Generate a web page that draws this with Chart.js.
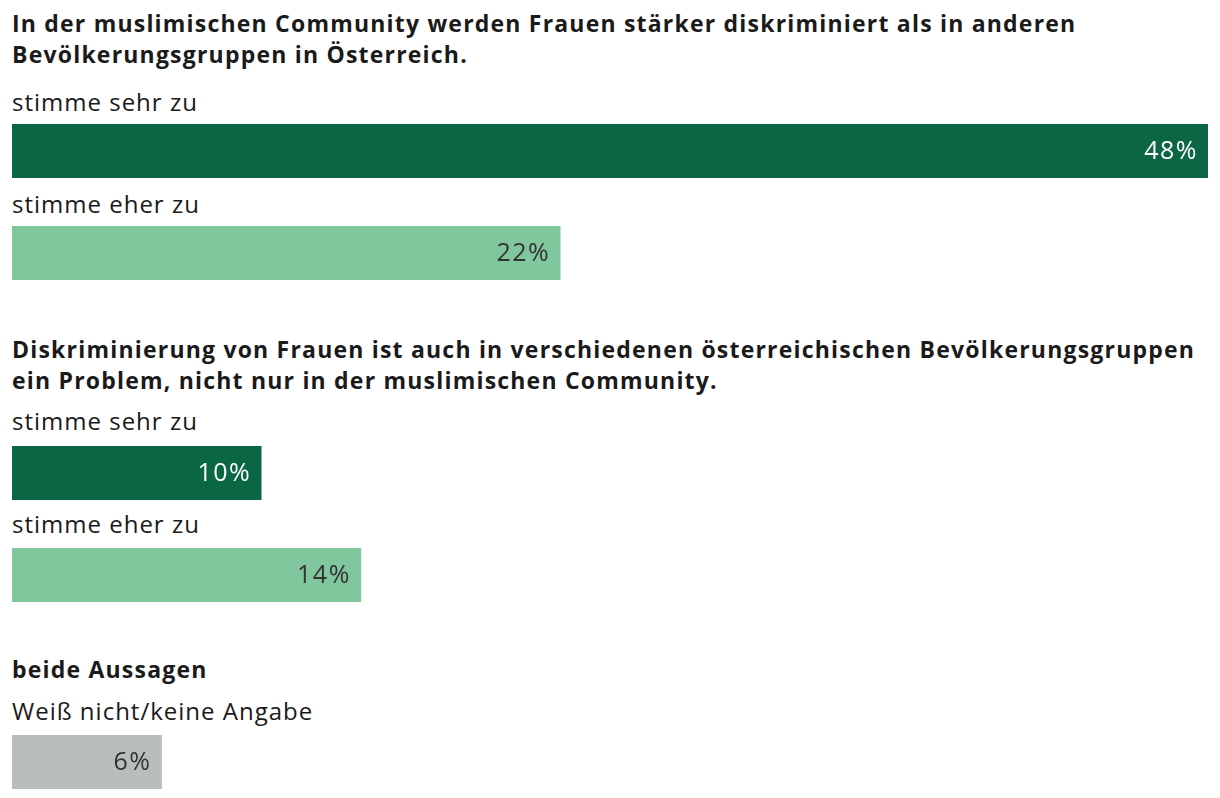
<!DOCTYPE html>
<html>
<head>
<meta charset="utf-8">
<script src="https://cdn.jsdelivr.net/npm/chart.js@4/dist/chart.umd.min.js"></script>
<style>
  html, body { margin: 0; padding: 0; background: #fff; }
  body { width: 1220px; height: 798px; position: relative; overflow: hidden; font-family: "Open Sans", sans-serif; color: #1a1a1a; }
  .title { position: absolute; left: 12px; font-weight: 700; font-size: 23px; letter-spacing: 1.2px; line-height: 31px; white-space: pre-line; color: #1a1a1a; }
  .label { position: absolute; left: 12px; font-weight: 400; font-size: 24px; letter-spacing: 1px; line-height: 30px; color: #1a1a1a; }
  .bar { position: absolute; left: 12px; width: 1196px; height: 54px; }
</style>
</head>
<body>
<script>
// ---- data ----
const groupTitles = [
  "In der muslimischen Community werden Frauen stärker diskriminiert als in anderen\nBevölkerungsgruppen in Österreich.",
  "Diskriminierung von Frauen ist auch in verschiedenen österreichischen Bevölkerungsgruppen\nein Problem, nicht nur in der muslimischen Community.",
  "beide Aussagen"
];
const group1Labels = ["stimme sehr zu", "stimme eher zu"];
const group1Values = [48, 22];
const group2Labels = ["stimme sehr zu", "stimme eher zu"];
const group2Values = [10, 14];
const group3Labels = ["Weiß nicht/keine Angabe"];
const group3Values = [6];
const scaleMax = 48;

// ---- styles ----
const colorStrong = "#0b6644";
const colorWeak = "#80c79e";
const colorNeutral = "#b8bebb";
const groups = [
  { title: groupTitles[0], labels: group1Labels, values: group1Values, colors: [colorStrong, colorWeak], text: ["#ffffff", "#333333"] },
  { title: groupTitles[1], labels: group2Labels, values: group2Values, colors: [colorStrong, colorWeak], text: ["#ffffff", "#333333"] },
  { title: groupTitles[2], labels: group3Labels, values: group3Values, colors: [colorNeutral], text: ["#333333"] }
];
// layout (tops in px)
const layout = [
  { title: 8, items: [{ label: 87, bar: 124 }, { label: 189, bar: 226 }] },
  { title: 334, items: [{ label: 406, bar: 446 }, { label: 509, bar: 548 }] },
  { title: 654, items: [{ label: 696, bar: 735 }] }
];

const valueLabelPlugin = {
  id: "valueLabel",
  afterDatasetsDraw(chart) {
    const ctx = chart.ctx;
    const ds = chart.data.datasets[0];
    const meta = chart.getDatasetMeta(0);
    meta.data.forEach((bar, i) => {
      ctx.save();
      ctx.font = '400 25px "Open Sans", sans-serif';
      ctx.letterSpacing = "1.5px";
      ctx.fillStyle = ds.valueColor;
      ctx.textAlign = "right";
      ctx.textBaseline = "middle";
      ctx.fillText(ds.data[i] + "%", bar.x - 10, bar.y + 1);
      ctx.restore();
    });
  }
};

groups.forEach((g, gi) => {
  const t = document.createElement("div");
  t.className = "title";
  t.style.top = layout[gi].title + "px";
  t.textContent = g.title;
  document.body.appendChild(t);
  g.labels.forEach((lab, i) => {
    const pos = layout[gi].items[i];
    const l = document.createElement("div");
    l.className = "label";
    l.style.top = pos.label + "px";
    l.textContent = lab;
    document.body.appendChild(l);
    const wrap = document.createElement("div");
    wrap.className = "bar";
    wrap.style.top = pos.bar + "px";
    const cv = document.createElement("canvas");
    wrap.appendChild(cv);
    document.body.appendChild(wrap);
    new Chart(cv, {
      type: "bar",
      data: {
        labels: [lab],
        datasets: [{
          data: [g.values[i]],
          backgroundColor: g.colors[i],
          borderWidth: 0,
          barPercentage: 1,
          categoryPercentage: 1,
          valueColor: g.text[i]
        }]
      },
      options: {
        indexAxis: "y",
        responsive: true,
        maintainAspectRatio: false,
        animation: false,
        layout: { padding: 0 },
        scales: {
          x: { display: false, min: 0, max: scaleMax },
          y: { display: false }
        },
        plugins: { legend: { display: false }, tooltip: { enabled: false } }
      },
      plugins: [valueLabelPlugin]
    });
  });
});
</script>
</body>
</html>
